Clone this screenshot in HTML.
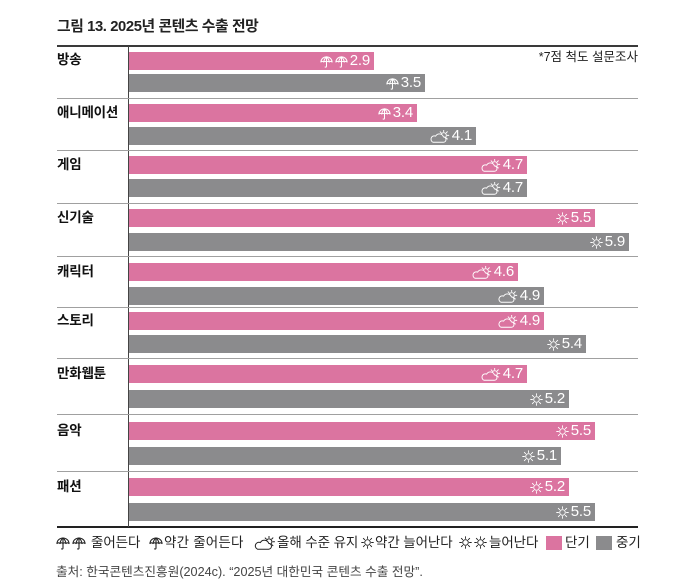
<!DOCTYPE html>
<html><head><meta charset="utf-8">
<style>
*{margin:0;padding:0;box-sizing:border-box}
html,body{width:680px;height:588px;background:#fff;overflow:hidden}
body{position:relative;font-family:"Liberation Sans","Noto Sans CJK KR",sans-serif;color:#222}
.a{position:absolute}
.t{left:57px;top:15px;height:24px;line-height:24px;font-size:14.8px;font-weight:700;letter-spacing:-0.4px;color:#222;white-space:nowrap}
.sep{position:absolute;left:57px;width:581px;height:1px;background:#a0a0a0}
.lab{position:absolute;left:57px;height:18px;line-height:18px;font-size:13.5px;font-weight:700;letter-spacing:-0.2px;color:#111;white-space:nowrap}
.bar{position:absolute;left:129px;height:18px;display:flex;justify-content:flex-end;align-items:center;padding-right:4px;color:#fff;font-size:15px;line-height:18px;letter-spacing:-0.2px;white-space:nowrap}
.p{background:#db74a0;--bg:#db74a0}
.g{background:#8b8b8d;--bg:#8b8b8d}
.bar svg{display:block;margin-right:2px}
.lg{position:absolute;top:534px;height:18px;line-height:18px;font-size:13.5px;color:#222;white-space:nowrap;letter-spacing:-0.1px}
.lgi{position:absolute;color:#222;--bg:#fff}
</style></head><body>
<svg width="0" height="0" style="position:absolute">
<defs>
<symbol id="u" viewBox="0 0 14 14">
<g fill="none" stroke="currentColor" stroke-width="1.1" stroke-linecap="round" stroke-linejoin="round">
<path d="M1 7.5 A6 5.5 0 0 1 13 7.5"/>
<path d="M1 7.5 Q2.5 6.2 4 7.5 Q5.5 6.2 7 7.5 Q8.5 6.2 10 7.5 Q11.5 6.2 13 7.5"/>
<path d="M7 2 Q4.6 4 4 7.3 M7 2 Q9.4 4 10 7.3"/>
<path d="M7 2 V12 Q7 13.4 5.5 12.9"/>
</g></symbol>
<symbol id="s" viewBox="0 0 14 14">
<g fill="none" stroke="currentColor" stroke-width="0.95" stroke-linecap="round">
<circle cx="7" cy="7" r="3"/>
<path d="M11.3 7H13.3M10.05 3.95L11.5 2.5M7 2.7V0.7M3.95 3.95L2.5 2.5M2.7 7H0.7M3.95 10.05L2.5 11.5M7 11.3V13.3M10.05 10.05L11.5 11.5"/>
</g></symbol>
<symbol id="c" viewBox="0 0 22 14">
<g stroke="currentColor" stroke-width="1" stroke-linecap="round" stroke-linejoin="round">
<circle cx="15.5" cy="5.8" r="2.9" fill="none"/>
<path fill="none" d="M15.5 1.8V0.4M18.3 3L19.4 1.9M19.5 5.8H21M18.3 8.6L19.4 9.7M12.7 3L11.7 2"/>
<path style="fill:var(--bg,#fff)" d="M4 13.2H15 A2.9 2.9 0 0 0 15.2 7.4 A4.6 4.6 0 0 0 6.8 6.6 A3.3 3.3 0 0 0 4 13.2Z"/>
</g></symbol>
</defs></svg>

<div class="a t">그림 13. 2025년 콘텐츠 수출 전망</div>

<div class="a" style="left:57px;top:45px;width:581px;height:2px;background:#3a3a3a"></div>
<div class="a" style="left:57px;top:526px;width:581px;height:2px;background:#222"></div>
<div class="a" style="left:128px;top:46px;width:1px;height:481px;background:#444"></div>

<div class="sep" style="top:98px"></div>
<div class="sep" style="top:150px"></div>
<div class="sep" style="top:203px"></div>
<div class="sep" style="top:256px"></div>
<div class="sep" style="top:307px"></div>
<div class="sep" style="top:358px"></div>
<div class="sep" style="top:414px"></div>
<div class="sep" style="top:471px"></div>

<div class="a" style="right:42px;top:48px;height:18px;line-height:18px;font-size:12.5px;color:#222;letter-spacing:0px;white-space:nowrap">*7점 척도 설문조사</div>

<div class="lab" style="top:51px">방송</div>
<div class="lab" style="top:104px">애니메이션</div>
<div class="lab" style="top:156px">게임</div>
<div class="lab" style="top:209px">신기술</div>
<div class="lab" style="top:263px">캐릭터</div>
<div class="lab" style="top:312px">스토리</div>
<div class="lab" style="top:365px">만화웹툰</div>
<div class="lab" style="top:422px">음악</div>
<div class="lab" style="top:478px">패션</div>

<!-- 방송 -->
<div class="bar p" style="top:52px;width:245px"><svg width="13" height="13"><use href="#u"/></svg><svg width="13" height="13"><use href="#u"/></svg>2.9</div>
<div class="bar g" style="top:74px;width:296px"><svg width="13" height="13"><use href="#u"/></svg>3.5</div>
<!-- 애니메이션 -->
<div class="bar p" style="top:104px;width:288px"><svg width="13" height="13"><use href="#u"/></svg>3.4</div>
<div class="bar g" style="top:127px;width:347px"><svg width="21" height="13"><use href="#c"/></svg>4.1</div>
<!-- 게임 -->
<div class="bar p" style="top:156px;width:398px"><svg width="21" height="13"><use href="#c"/></svg>4.7</div>
<div class="bar g" style="top:179px;width:398px"><svg width="21" height="13"><use href="#c"/></svg>4.7</div>
<!-- 신기술 -->
<div class="bar p" style="top:209px;width:466px"><svg width="13" height="13"><use href="#s"/></svg>5.5</div>
<div class="bar g" style="top:233px;width:500px"><svg width="13" height="13"><use href="#s"/></svg>5.9</div>
<!-- 캐릭터 -->
<div class="bar p" style="top:263px;width:389px"><svg width="21" height="13"><use href="#c"/></svg>4.6</div>
<div class="bar g" style="top:287px;width:415px"><svg width="21" height="13"><use href="#c"/></svg>4.9</div>
<!-- 스토리 -->
<div class="bar p" style="top:312px;width:415px"><svg width="21" height="13"><use href="#c"/></svg>4.9</div>
<div class="bar g" style="top:335px;width:457px"><svg width="13" height="13"><use href="#s"/></svg>5.4</div>
<!-- 만화웹툰 -->
<div class="bar p" style="top:365px;width:398px"><svg width="21" height="13"><use href="#c"/></svg>4.7</div>
<div class="bar g" style="top:390px;width:440px"><svg width="13" height="13"><use href="#s"/></svg>5.2</div>
<!-- 음악 -->
<div class="bar p" style="top:422px;width:466px"><svg width="13" height="13"><use href="#s"/></svg>5.5</div>
<div class="bar g" style="top:447px;width:432px"><svg width="13" height="13"><use href="#s"/></svg>5.1</div>
<!-- 패션 -->
<div class="bar p" style="top:478px;width:440px"><svg width="13" height="13"><use href="#s"/></svg>5.2</div>
<div class="bar g" style="top:503px;width:466px"><svg width="13" height="13"><use href="#s"/></svg>5.5</div>

<!-- legend -->
<svg class="lgi" style="left:56px;top:536px" width="14" height="14"><use href="#u"/></svg>
<svg class="lgi" style="left:72px;top:536px" width="14" height="14"><use href="#u"/></svg>
<div class="lg" style="left:91px">줄어든다</div>
<svg class="lgi" style="left:149px;top:536px" width="14" height="14"><use href="#u"/></svg>
<div class="lg" style="left:164px;letter-spacing:0.2px">약간 줄어든다</div>
<svg class="lgi" style="left:253px;top:536px" width="23" height="14"><use href="#c"/></svg>
<div class="lg" style="left:277px">올해 수준 유지</div>
<svg class="lgi" style="left:361px;top:536px" width="13" height="13"><use href="#s"/></svg>
<div class="lg" style="left:375px">약간 늘어난다</div>
<svg class="lgi" style="left:459px;top:536px" width="13" height="13"><use href="#s"/></svg>
<svg class="lgi" style="left:474px;top:536px" width="13" height="13"><use href="#s"/></svg>
<div class="lg" style="left:489px">늘어난다</div>
<div class="a" style="left:546px;top:536px;width:16px;height:14px;background:#db74a0"></div>
<div class="lg" style="left:565px">단기</div>
<div class="a" style="left:596px;top:536px;width:16px;height:14px;background:#8b8b8d"></div>
<div class="lg" style="left:616px">중기</div>

<div class="a" style="left:56px;top:563px;height:18px;line-height:18px;font-size:12.65px;color:#444;white-space:nowrap;letter-spacing:0px">출처: 한국콘텐츠진흥원(2024c). “2025년 대한민국 콘텐츠 수출 전망”.</div>
</body></html>
